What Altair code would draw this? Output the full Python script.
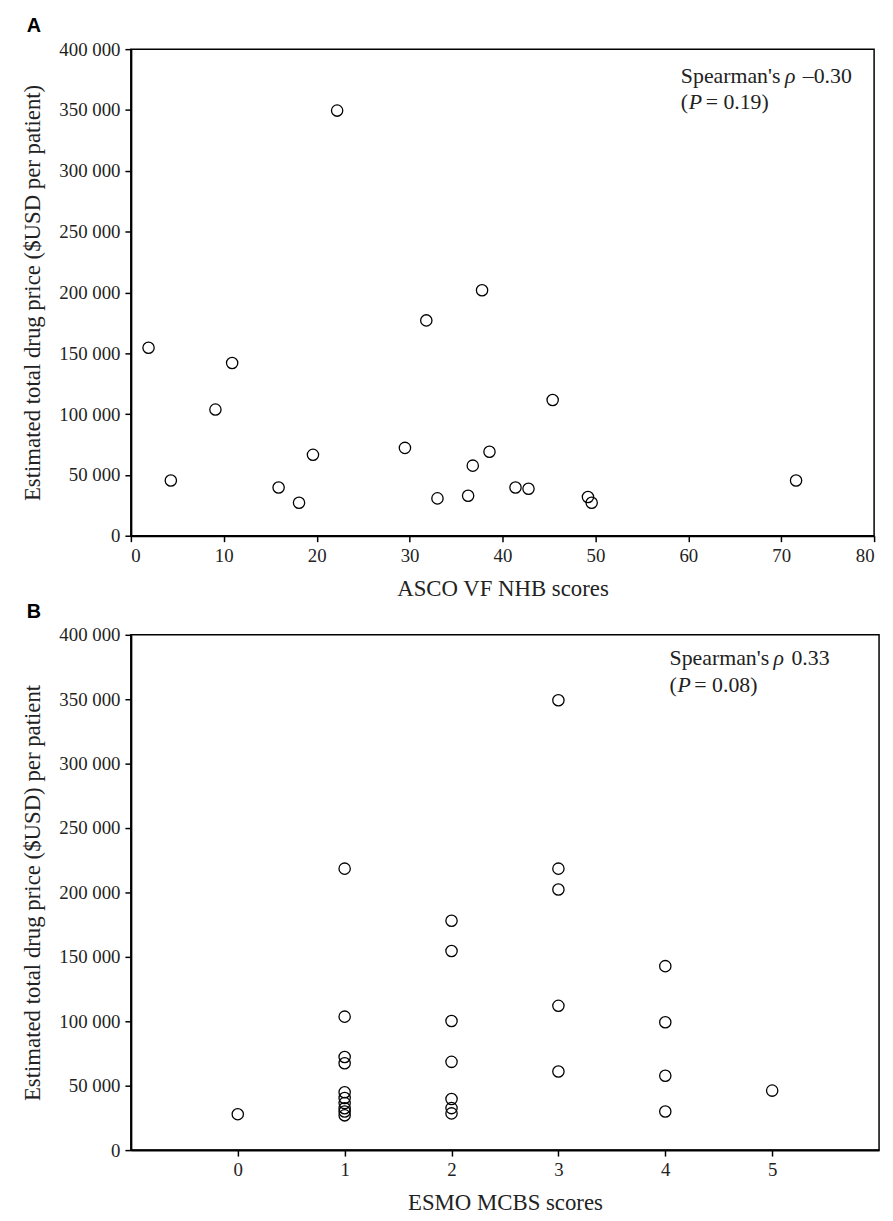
import altair as alt
import pandas as pd

# Panel A: ASCO VF NHB scores vs estimated total drug price (USD per patient)
asco_scores = [1.9, 4.3, 9.1, 10.9, 15.9, 18.1, 19.6, 22.2, 29.5, 31.8, 33.0,
               36.3, 36.8, 37.8, 38.6, 41.4, 42.8, 45.4, 49.2, 49.6, 71.6]
asco_prices = [154500, 45400, 103700, 142000, 39700, 27100, 66500, 349500, 72200, 177000, 30700,
               32800, 57600, 201800, 69000, 39700, 38600, 111600, 31800, 27100, 45400]

# Panel B: ESMO MCBS scores vs estimated total drug price
esmo_scores = [0,
               1, 1, 1, 1, 1, 1, 1, 1, 1, 1,
               2, 2, 2, 2, 2, 2, 2,
               3, 3, 3, 3, 3,
               4, 4, 4, 4,
               5]
esmo_prices = [27900,
               218500, 103600, 72300, 67400, 44900, 40500, 36500, 32500, 30000, 27000,
               178000, 154600, 100200, 68500, 39700, 32600, 28500,
               349200, 218500, 202300, 112000, 61000,
               142800, 99200, 57700, 30000,
               46200]

x_ticks_a = [0, 10, 20, 30, 40, 50, 60, 70, 80]
x_ticks_b = [0, 1, 2, 3, 4, 5]
y_ticks = [0, 50000, 100000, 150000, 200000, 250000, 300000, 350000, 400000]

SERIF = "Liberation Serif"
Y_LABEL_EXPR = "replace(format(datum.value, ','), ',', ' ')"

df_a = pd.DataFrame({"score": asco_scores, "price": asco_prices})
df_b = pd.DataFrame({"score": esmo_scores, "price": esmo_prices})


def annotation(x, y1, y2, value, pval):
    one = pd.DataFrame({"x": [x], "y1": [y1], "y2": [y2]})
    base = alt.Chart(one)
    common = dict(font=SERIF, fontSize=22, align="left", baseline="alphabetic", color="#222")
    enc1 = dict(x=alt.X("x:Q"), y=alt.Y("y1:Q"))
    enc2 = dict(x=alt.X("x:Q"), y=alt.Y("y2:Q"))
    return [
        base.mark_text(text="Spearman's", dx=0, **common).encode(**enc1),
        base.mark_text(text="ρ", dx=105, fontStyle="italic", **common).encode(**enc1),
        base.mark_text(text=value, dx=123, **common).encode(**enc1),
        base.mark_text(text="(", dx=0, **common).encode(**enc2),
        base.mark_text(text="P", dx=8, fontStyle="italic", **common).encode(**enc2),
        base.mark_text(text="= " + pval + ")", dx=25, **common).encode(**enc2),
    ]


def panel(df, label, xtitle, ytitle, xdomain, xticks, width, height, ann):
    x = alt.X("score:Q", scale=alt.Scale(domain=xdomain, nice=False, zero=False),
              axis=alt.Axis(values=xticks, title=xtitle, format="d"))
    y = alt.Y("price:Q", scale=alt.Scale(domain=[0, 400000], nice=False),
              axis=alt.Axis(values=y_ticks, title=ytitle, labelExpr=Y_LABEL_EXPR))
    pts = alt.Chart(df).mark_point(shape="circle", filled=False, size=130,
                                   stroke="black", strokeWidth=1.3, opacity=1).encode(x=x, y=y)
    layers = [pts] + ann
    return alt.layer(*layers).properties(
        width=width, height=height,
        title=alt.TitleParams(label, anchor="start", frame="group", dx=-105,
                              font="Liberation Sans", fontSize=20, fontWeight="bold",
                              color="black", offset=4)
    )


ann_a = annotation(59.2, 372300, 350600, "–0.30", "0.19")
ann_b = annotation(4.04, 376400, 355600, "0.33", "0.08")

chart_a = panel(df_a, "A", "ASCO VF NHB scores", "Estimated total drug price ($USD per patient)",
                [0, 80], x_ticks_a, 750, 491, ann_a)
chart_b = panel(df_b, "B", "ESMO MCBS scores", "Estimated total drug price ($USD) per patient",
                [-1, 6], x_ticks_b, 755, 520, ann_b)

chart = alt.vconcat(chart_a, chart_b, spacing=0).configure_view(
    stroke="black", strokeWidth=1.5
).configure_axis(
    grid=False,
    domainColor="black", domainWidth=2,
    tickColor="black", tickWidth=1.5, tickSize=6,
    labelFont=SERIF, labelFontSize=19, labelColor="#222", labelPadding=5,
    titleFont=SERIF, titleFontSize=23, titleFontWeight="normal", titleColor="#222",
).configure_axisY(
    titlePadding=14
).configure_axisX(
    titlePadding=12
).properties(
    padding={"left": 13, "top": 2, "right": 5, "bottom": 0}
)

chart.save("out.html", embed_options={"renderer": "svg", "actions": False})
